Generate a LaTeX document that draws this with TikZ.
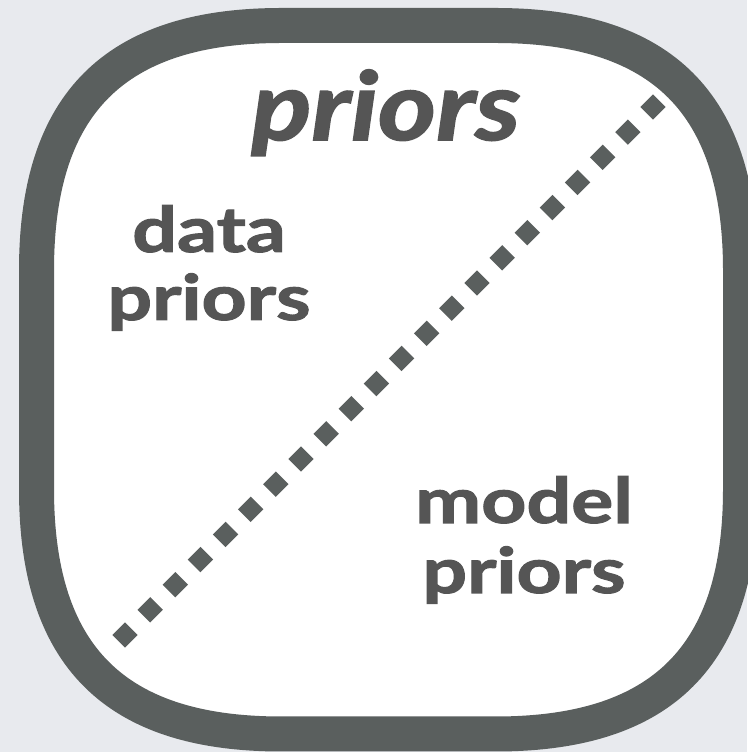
\documentclass[tikz,border=0pt]{standalone}
\usepackage{fontspec}
\setmainfont{Lato}
\newfontfamily\heavyfont[BoldFeatures={FakeBold=1.6}, BoldItalicFeatures={FakeBold=1.6}]{Lato}
\definecolor{framegray}{RGB}{90,95,94}
\definecolor{inkgray}{RGB}{85,85,85}
\definecolor{backgray}{RGB}{232,234,238}
\tikzset{
  label/.style={font=\heavyfont\bfseries\fontsize{63}{70}\selectfont, text=inkgray,
    anchor=base, inner sep=0pt, xscale=1.25, transform shape},
  title/.style={font=\heavyfont\bfseries\itshape\fontsize{95}{100}\selectfont, text=inkgray,
    anchor=base, inner sep=0pt, xscale=1.17, transform shape},
  pip/.style={fill=framegray, rotate=45, minimum size=18pt, inner sep=0pt}
}
\begin{document}
\begin{tikzpicture}[x=1pt, y=1pt]
  \fill[backgray] (0,0) rectangle (747,752);
  \useasboundingbox (0,0) rectangle (747,752);
  % frame with soft corners
  \def\cl{245}
  \def\cc{78}
  \draw[line width=35pt, draw=framegray, fill=white]
    (36.5,18+\cl) -- (36.5,726.5-\cl)
    .. controls (36.5,726.5-\cc) and (36.5+\cc,726.5) .. (36.5+\cl,726.5)
    -- (740.5-\cl,726.5)
    .. controls (740.5-\cc,726.5) and (740.5,726.5-\cc) .. (740.5,726.5-\cl)
    -- (740.5,18+\cl)
    .. controls (740.5,18+\cc) and (740.5-\cc,18) .. (740.5-\cl,18)
    -- (36.5+\cl,18)
    .. controls (36.5+\cc,18) and (36.5,18+\cc) .. (36.5,18+\cl) -- cycle;
  % dotted diagonal
  \foreach \i in {0,...,21}
    \node[pip] (pip\i) at ({125+\i*528/21},{117+\i*528/21}) {};
  % texts
  \node[title] (head) at (386,612) {priors};
  \node[label] (dataA) at (209,500) {data};
  \node[label] (dataB) at (209,432) {priors};
  \node[label] (modelA) at (524,229) {model};
  \node[label] (modelB) at (524,159) {priors};
\end{tikzpicture}
\end{document}
